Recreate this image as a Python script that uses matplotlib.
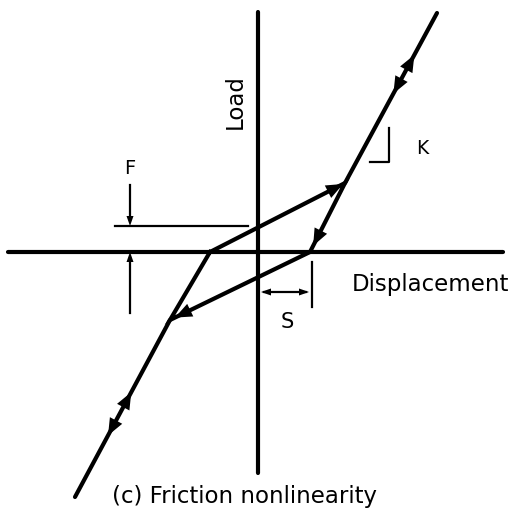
import numpy as np
import matplotlib
matplotlib.use('Agg')
import matplotlib.pyplot as plt
from matplotlib.patches import Polygon

# Load-displacement sketch of a joint with friction (units are arbitrary)
axis_disp = [-250, 245]          # extent of displacement axis
axis_load = [-221, 240]          # extent of load axis

# hysteresis loop: corners in order of travel
loop_disp = [-48, 87, 52, -88, -48]
loop_load = [0, 69, 0, -68, 0]

# stiff branches (slope K) outside the loop
upper_disp = [87, 179]
upper_load = [69, 239]
lower_disp = [-88, -183]
lower_load = [-68, -245]

# arrow heads: (x pts, y pts, fraction along the segment, direction +1/-1)
arrow_specs = [
    (upper_disp, upper_load, 0.71, +1),
    (upper_disp, upper_load, 0.57, -1),
    (loop_disp[0:2], loop_load[0:2], 0.93, +1),
    (loop_disp[1:3], loop_load[1:3], 0.80, +1),
    (loop_disp[2:4], loop_load[2:4], 0.91, +1),
    (lower_disp, lower_load, 0.45, -1),
    (lower_disp, lower_load, 0.61, +1),
]

# friction force F, slip S, stiffness marker K
F_level = 26
S_width = 52

fig = plt.figure(figsize=(5.14, 5.23), dpi=100)
ax = fig.add_axes([0, 0, 1, 1])
ax.set_xlim(-258, 256)
ax.set_ylim(-271, 252)
ax.axis('off')

lw = 3.0
ax.plot(axis_disp, [0, 0], color='black', lw=lw, solid_capstyle='round')
ax.plot([0, 0], axis_load, color='black', lw=lw, solid_capstyle='round')
ax.plot(loop_disp, loop_load, color='black', lw=lw, solid_joinstyle='miter')
ax.plot(upper_disp, upper_load, color='black', lw=lw, solid_capstyle='round')
ax.plot(lower_disp, lower_load, color='black', lw=lw, solid_capstyle='round')


def head(ax, p, d, length=17, width=14):
    """Filled triangular arrow head centred at p, pointing along d."""
    d = np.asarray(d, float) / np.hypot(*d)
    n = np.array([-d[1], d[0]])
    p = np.asarray(p, float)
    tip = p + d * length / 2
    base = p - d * length / 2
    ax.add_patch(Polygon([tip, base + n * width / 2, base - n * width / 2],
                         closed=True, color='black', lw=0))


for xs, ys, t, sgn in arrow_specs:
    p0 = np.array([xs[0], ys[0]], float)
    p1 = np.array([xs[1], ys[1]], float)
    head(ax, p0 + t * (p1 - p0), sgn * (p1 - p0))

# F: friction level with arrows from above and below
thin = 1.6
ax.plot([-143, -10], [F_level, F_level], color='black', lw=thin)
ax.plot([-128, -128], [67, F_level + 6], color='black', lw=thin)
head(ax, (-128, F_level + 5), (0, -1), length=10, width=7)
ax.plot([-128, -128], [-61, -6], color='black', lw=thin)
head(ax, (-128, -5), (0, 1), length=10, width=7)
ax.text(-128, 84, 'F', fontsize=14, ha='center', va='center')

# S: slip distance
ax.plot([S_width + 2, S_width + 2], [-10, -55], color='black', lw=thin)
ax.plot([6, S_width - 4], [-40, -40], color='black', lw=thin)
head(ax, (8, -40), (-1, 0), length=10, width=7)
head(ax, (S_width - 6, -40), (1, 0), length=10, width=7)
ax.text(29, -70, 'S', fontsize=15, ha='center', va='center')

# K: slope marker
ax.plot([112, 131, 131], [90, 90, 124], color='black', lw=thin)
ax.text(164, 104, 'K', fontsize=13.5, ha='center', va='center')

ax.text(-23, 150, 'Load', fontsize=16.5, rotation=90, ha='center', va='center')
ax.text(94, -33, 'Displacement', fontsize=16.5, ha='left', va='center')
ax.text(-13, -245, '(c) Friction nonlinearity', fontsize=16.5, ha='center', va='center')

fig.savefig('out.png', dpi=100)
